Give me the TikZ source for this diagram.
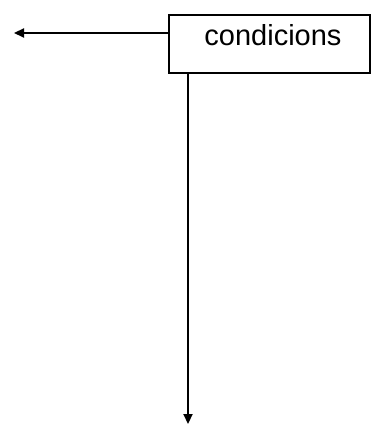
\documentclass[tikz,border=0pt]{standalone}
\usepackage{fontspec}
\setmainfont{Liberation Sans}
\usetikzlibrary{arrows.meta}
\begin{document}
\begin{tikzpicture}[x=1pt,y=-1pt,
  wire/.style={line width=2.2pt,-{Triangle[length=10pt,width=9pt]}},
  block/.style={draw,line width=2.2pt,minimum width=201pt,minimum height=58pt,
    inner sep=0pt,anchor=north west}]
  \useasboundingbox (0,0) rectangle (370,430);
  \node[block] (cond) at (168,14) {};
  \node[font=\fontsize{29}{32}\selectfont,anchor=base] (lbl) at (273,46) {condicions};
  \coordinate (left) at (14,33);
  \coordinate (down) at (188,424);
  \draw[wire] (cond.west |- left) -- (left);
  \draw[wire] (cond.south -| down) -- (down);
\end{tikzpicture}
\end{document}
